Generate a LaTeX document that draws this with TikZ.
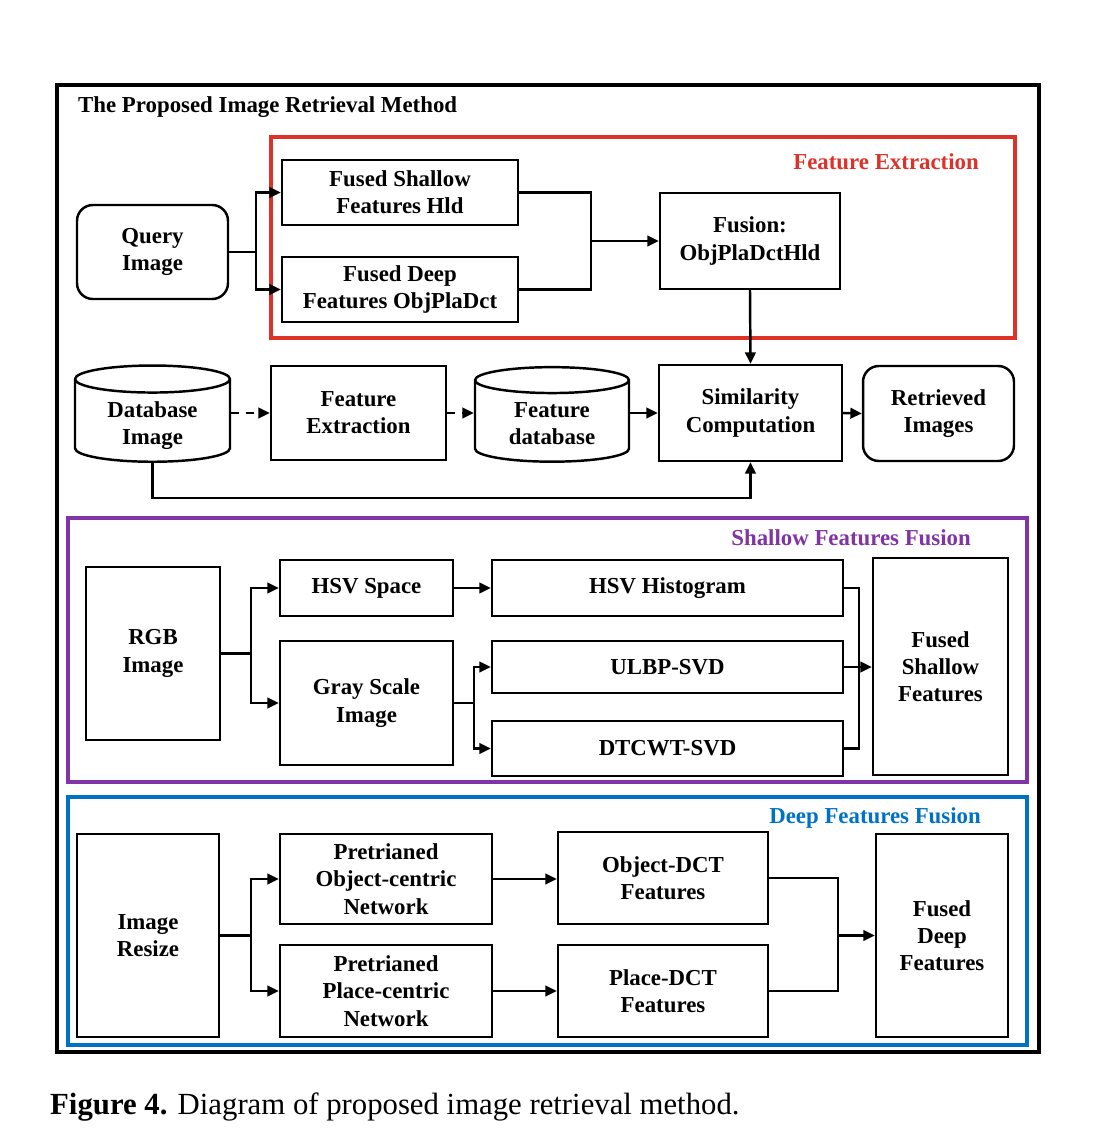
\documentclass[tikz,border=0pt]{standalone}
\usepackage{fontspec}
\setmainfont{Liberation Serif}
\usetikzlibrary{arrows.meta,shapes.geometric}
\definecolor{fered}{RGB}{222,50,40}
\definecolor{sfpurple}{RGB}{128,52,165}
\definecolor{dfblue}{RGB}{0,114,198}
\newcommand{\dbtext}[2]{\raisebox{-2.5pt}[\height][\depth]{\begin{tabular}{@{}c@{}}#1\\#2\end{tabular}}}

\begin{document}
\begin{tikzpicture}[x=0.02cm,y=-0.02cm,
  box/.style={draw, line width=1.4pt, align=center, inner sep=0pt, font=\fontsize{13}{15.5}\selectfont\bfseries},
  rbox/.style={box, rounded corners=9pt},
  dbase/.style={box, cylinder, shape border rotate=90, aspect=0.3},
  link/.style={line width=1.4pt, -{Triangle[length=6.5pt,width=6pt]}},
  dlink/.style={link, dash pattern=on 4.5pt off 4pt},
  groupframe/.style={line width=1.8pt},
  tag/.style={anchor=east, font=\fontsize{13}{15}\selectfont\bfseries}]
  \useasboundingbox (0,0) rectangle (1098,1144);
  % frames
  \draw[line width=2pt] (57,85) rectangle (1039,1052);
  \draw[groupframe, fered, line width=2.2pt] (271,137) rectangle (1015,338);
  \draw[groupframe, sfpurple] (68,518) rectangle (1027,782);
  \draw[groupframe, dfblue] (68,797) rectangle (1027,1045);
  % titles
  \node[anchor=west, font=\fontsize{13}{15}\selectfont\bfseries] (title) at (72,107) {The Proposed Image Retrieval Method};
  \node[tag, fered] (fetag) at (985,162) {Feature Extraction};
  \node[tag, sfpurple] (sftag) at (977,538) {Shallow Features Fusion};
  \node[tag, dfblue] (dftag) at (987,818) {Deep Features Fusion};
  % feature extraction part
  \node[rbox, minimum width=3.02cm, minimum height=1.88cm] (query) at (152.5,252) {Query\\Image};
  \node[box, minimum width=4.72cm, minimum height=1.3cm] (fshallow) at (400,192.5) {Fused Shallow\\Features Hld};
  \node[box, minimum width=4.72cm, minimum height=1.3cm] (fdeep) at (400,289.5) {Fused Deep\\Features ObjPlaDct};
  \node[box, minimum width=3.6cm, minimum height=1.92cm] (fusion) at (750,241) {Fusion:\\ObjPlaDctHld};
  % retrieval row
  \node[dbase, minimum width=3.1cm, minimum height=1.8cm] (dbimg) at (152.5,421) {\dbtext{Database}{Image}};
  \node[box, minimum width=3.5cm, minimum height=1.88cm] (featext) at (358.5,413) {Feature\\Extraction};
  \node[dbase, minimum width=3.08cm, minimum height=1.8cm] (featdb) at (552,421.5) {\dbtext{Feature}{database}};
  \node[box, minimum width=3.66cm, minimum height=1.92cm] (simcomp) at (750.5,413) {Similarity\\Computation};
  \node[rbox, minimum width=3.02cm, minimum height=1.9cm] (retrieved) at (938.5,413.5) {Retrieved\\Images};
  % shallow features fusion
  \node[box, minimum width=2.68cm, minimum height=3.46cm] (rgb) at (153,653.5) {RGB\\Image};
  \node[box, minimum width=3.46cm, minimum height=1.12cm] (hsvspace) at (366.5,588) {HSV Space};
  \node[box, minimum width=3.46cm, minimum height=2.48cm] (gray) at (366.5,703) {Gray Scale\\Image};
  \node[box, minimum width=7.02cm, minimum height=1.12cm] (hsvhist) at (667.5,588) {HSV Histogram};
  \node[box, minimum width=7.02cm, minimum height=1.04cm] (ulbp) at (667.5,667) {ULBP-SVD};
  \node[box, minimum width=7.02cm, minimum height=1.1cm] (dtcwt) at (667.5,748.5) {DTCWT-SVD};
  \node[box, minimum width=2.7cm, minimum height=4.34cm] (fusedsh) at (940.5,666.5) {Fused\\Shallow\\Features};
  % deep features fusion
  \node[box, minimum width=2.84cm, minimum height=4.06cm] (resize) at (148,935.5) {Image\\Resize};
  \node[box, minimum width=4.24cm, minimum height=1.8cm] (objnet) at (386,879) {Pretrianed\\Object-centric\\Network};
  \node[box, minimum width=4.24cm, minimum height=1.84cm] (plnet) at (386,991) {Pretrianed\\Place-centric\\Network};
  \node[box, minimum width=4.2cm, minimum height=1.84cm] (objdct) at (663,878) {Object-DCT\\Features};
  \node[box, minimum width=4.2cm, minimum height=1.84cm] (pldct) at (663,991) {Place-DCT\\Features};
  \node[box, minimum width=2.64cm, minimum height=4.06cm] (fuseddp) at (942,935.5) {Fused\\Deep\\Features};
  % connectors, top
  \draw[line width=1.4pt] (query.east) -- ++(27,0) coordinate (qsplit);
  \draw[link] (qsplit) |- (fshallow.west);
  \draw[link] (qsplit) |- (fdeep.west);
  \draw[line width=1.4pt] (fshallow.east) -- ++(72,0) coordinate (fjoin) |- (fdeep.east);
  \draw[link] (fjoin |- fusion.west) -- (fusion.west);
  \draw[link] (fusion.south) -- (simcomp.north);
  \draw[dlink] (featext.west -| dbimg.east) -- (featext.west);
  \draw[dlink] (featext.east) -- (featext.east -| featdb.west);
  \draw[link] (simcomp.west -| featdb.east) -- (simcomp.west);
  \draw[link] (simcomp.east) -- (retrieved.west);
  \draw[link] (dbimg.south) -- ++(0,35) -| (simcomp.south);
  % connectors, shallow
  \draw[line width=1.4pt] (rgb.east) -- ++(30,0) coordinate (rsplit);
  \draw[link] (rsplit) |- (hsvspace.west);
  \draw[link] (rsplit) |- (gray.west);
  \draw[link] (hsvspace.east) -- (hsvhist.west);
  \draw[line width=1.4pt] (gray.east) -- ++(20,0) coordinate (gsplit);
  \draw[link] (gsplit) |- (ulbp.west);
  \draw[link] (gsplit) |- (dtcwt.west);
  \draw[line width=1.4pt] (hsvhist.east) -- ++(15,0) |- (dtcwt.east);
  \draw[link] (ulbp.east) -- (ulbp.east -| fusedsh.west);
  % connectors, deep
  \draw[line width=1.4pt] (resize.east) -- ++(31,0) coordinate (isplit);
  \draw[link] (isplit) |- (objnet.west);
  \draw[link] (isplit) |- (plnet.west);
  \draw[link] (objnet.east) -- (objnet.east -| objdct.west);
  \draw[link] (plnet.east) -- (pldct.west);
  \draw[line width=1.4pt] (objdct.east) -- ++(69,0) coordinate (djoin) |- (pldct.east);
  \draw[link] (djoin |- fuseddp.west) -- (fuseddp.west);
  % caption
  \node[anchor=west, font=\fontsize{17.5}{20}\selectfont] (caption) at (44,1107) {\textbf{Figure 4.} Diagram of proposed image retrieval method.};
\end{tikzpicture}
\end{document}
